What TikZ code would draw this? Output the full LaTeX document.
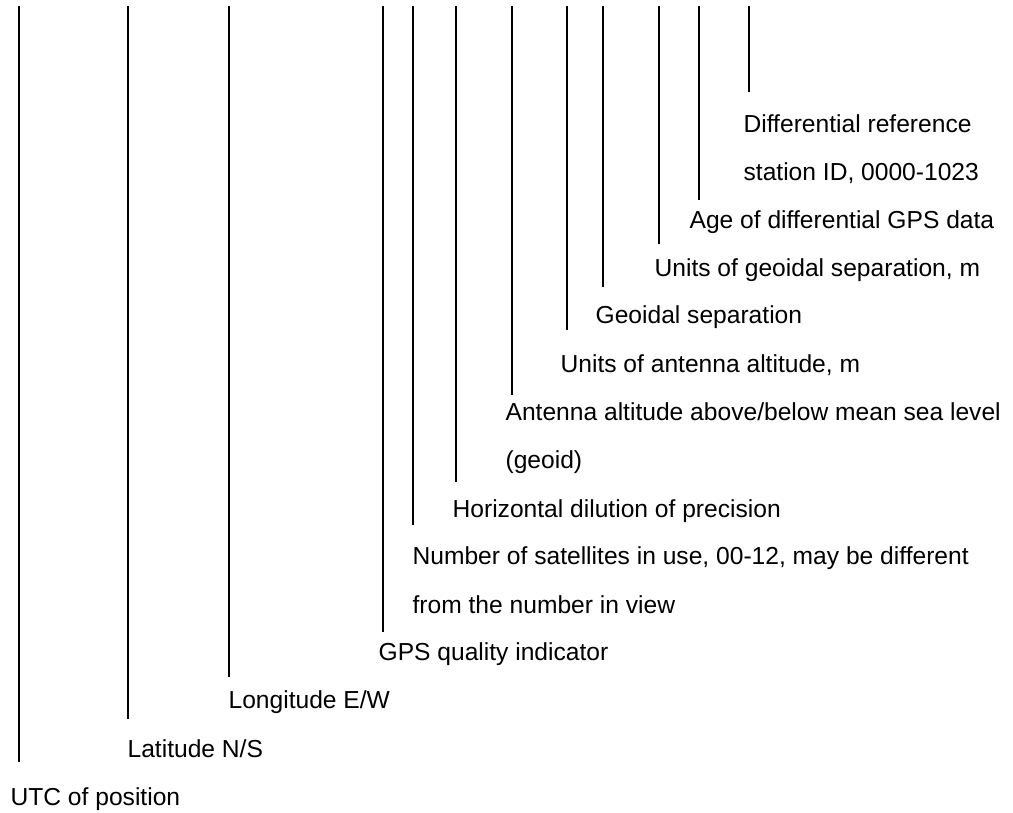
\documentclass[tikz,border=0pt]{standalone}
\usepackage{fontspec}
\setmainfont{Liberation Sans}
\begin{document}
\begin{tikzpicture}[x=0.2mm,y=-0.2mm,line width=0.7pt,
  lbl/.style={anchor=base west,inner sep=0pt,font=\fontsize{14pt}{17pt}\selectfont}]
\useasboundingbox (0,0) rectangle (1013,812);

% field labels, one row every 48 units
\node[lbl] (refid) at (743,132) {Differential reference};
\node[lbl] (refidb) at (743,180) {station ID, 0000-1023};
\node[lbl] (age) at (689,228) {Age of differential GPS data};
\node[lbl] (geou) at (654,276) {Units of geoidal separation, m};
\node[lbl] (geo) at (595,323) {Geoidal separation};
\node[lbl] (altu) at (560,372) {Units of antenna altitude, m};
\node[lbl] (alt) at (505,420) {Antenna altitude above/below mean sea level};
\node[lbl] (altb) at (505,468) {(geoid)};
\node[lbl] (hdop) at (452,517) {Horizontal dilution of precision};
\node[lbl] (nsat) at (412,564) {Number of satellites in use, 00-12, may be different};
\node[lbl] (nsatb) at (412,613) {from the number in view};
\node[lbl] (qual) at (378,660) {GPS quality indicator};
\node[lbl] (lon) at (228,708) {Longitude E/W};
\node[lbl] (lat) at (127,757) {Latitude N/S};
\node[lbl] (utc) at (10,805) {UTC of position};

% leader lines
\draw (19,6) coordinate (utc-top) -- (19,762) coordinate (utc-end);
\draw (128,6) coordinate (lat-top) -- (128,719) coordinate (lat-end);
\draw (229,6) coordinate (lon-top) -- (229,677) coordinate (lon-end);
\draw (383,6) coordinate (qual-top) -- (383,632) coordinate (qual-end);
\draw (413,6) coordinate (nsat-top) -- (413,525) coordinate (nsat-end);
\draw (456,6) coordinate (hdop-top) -- (456,482) coordinate (hdop-end);
\draw (512,6) coordinate (alt-top) -- (512,395) coordinate (alt-end);
\draw (567,6) coordinate (altu-top) -- (567,330) coordinate (altu-end);
\draw (603,6) coordinate (geo-top) -- (603,287) coordinate (geo-end);
\draw (659,6) coordinate (geou-top) -- (659,244) coordinate (geou-end);
\draw (699,6) coordinate (age-top) -- (699,200) coordinate (age-end);
\draw (749,6) coordinate (refid-top) -- (749,92) coordinate (refid-end);
\end{tikzpicture}
\end{document}
